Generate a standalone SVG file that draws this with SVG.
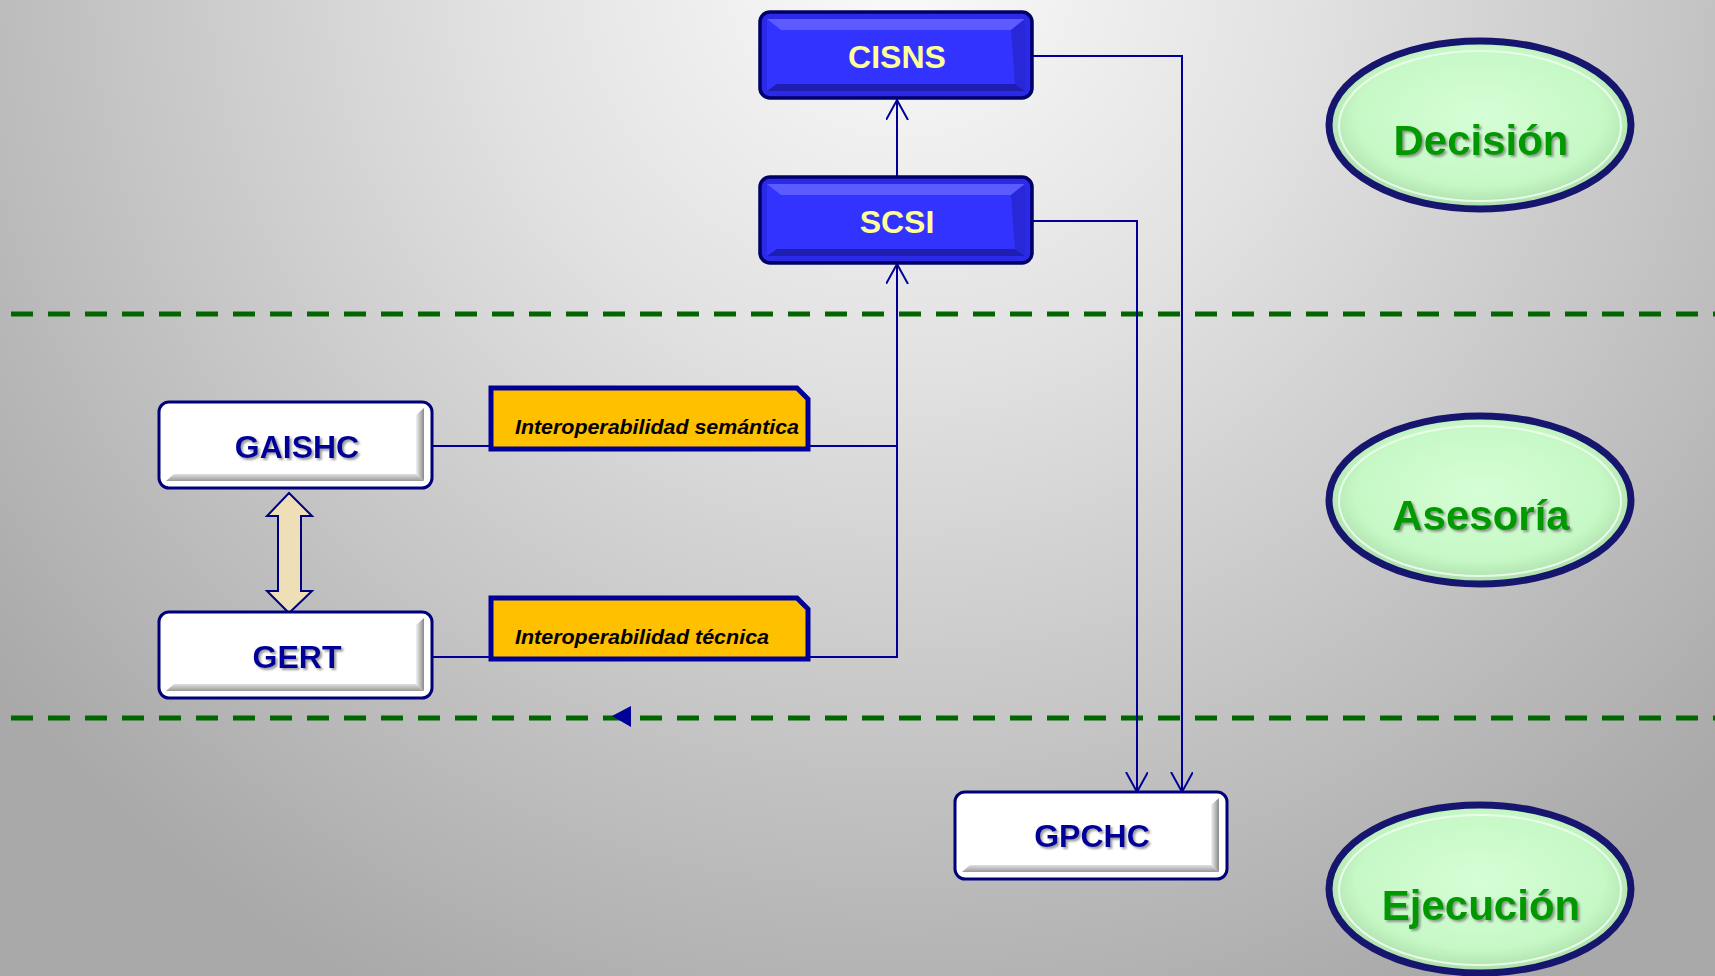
<svg xmlns="http://www.w3.org/2000/svg" width="1715" height="976" viewBox="0 0 1715 976">
<defs>
<radialGradient id="bg" gradientUnits="userSpaceOnUse" cx="900" cy="-40" r="1150" fx="900" fy="-40">
<stop offset="0" stop-color="#fbfbfb"/>
<stop offset="0.35" stop-color="#e2e2e2"/>
<stop offset="1" stop-color="#a9a9a9"/>
</radialGradient>
<radialGradient id="ell" cx="0.5" cy="0.45" r="0.55">
<stop offset="0" stop-color="#d6fed6"/>
<stop offset="0.75" stop-color="#c6f8c6"/>
<stop offset="1" stop-color="#a9dca9"/>
</radialGradient>
<linearGradient id="grayR" x1="0" y1="0" x2="1" y2="0">
<stop offset="0" stop-color="#f2f2f2"/>
<stop offset="1" stop-color="#8a8a8a"/>
</linearGradient>
<linearGradient id="grayB" x1="0" y1="0" x2="0" y2="1">
<stop offset="0" stop-color="#e0e0e0"/>
<stop offset="1" stop-color="#9a9a9a"/>
</linearGradient>
<filter id="sh" x="-10%" y="-20%" width="130%" height="150%">
<feDropShadow dx="2" dy="2" stdDeviation="0.8" flood-color="#707070" flood-opacity="0.7"/>
</filter>
<marker id="arr" markerWidth="24" markerHeight="24" refX="20" refY="11" orient="auto" markerUnits="userSpaceOnUse">
<path d="M0,0 L20,11 L0,22" fill="none" stroke="#000099" stroke-width="2"/>
</marker>
<style>
.conn{fill:none;stroke:#000099;stroke-width:2}
.dash{stroke:#006600;stroke-width:5;stroke-dasharray:22 15}
.wout{fill:#ffffff;stroke:#00007a;stroke-width:3}
.bout{fill:#2a2ae8;stroke:#000066;stroke-width:3.5}
.bface{fill:#3333ff}
.btop{fill:#5b5bff}
.bbot{fill:#1e1eb0}
.bside{fill:#2828d8}
.wt{font-family:"Liberation Sans",Arial,sans-serif;font-weight:bold;font-size:32px;fill:#000099;text-anchor:middle}
.bt{font-family:"Liberation Sans",Arial,sans-serif;font-weight:bold;font-size:32px;fill:#ffff99;text-anchor:middle}
.yt{font-family:"Liberation Sans",Arial,sans-serif;font-weight:bold;font-style:italic;font-size:20px;fill:#000000}
.yb{fill:#ffc000;stroke:#000099;stroke-width:5}
.eo{fill:url(#ell);stroke:#16166e;stroke-width:7}
.ei{fill:none;stroke:#eefcee;stroke-width:2;opacity:0.9}
.et{font-family:"Liberation Sans",Arial,sans-serif;font-weight:bold;font-size:42px;fill:#009900;text-anchor:middle}
</style>
</defs>
<rect x="0" y="0" width="1715" height="976" fill="url(#bg)"/>
<line class="dash" x1="11" y1="314" x2="1715" y2="314"/>
<line class="dash" x1="11" y1="718" x2="1715" y2="718"/>
<polygon points="612,716 631,706 631,727" fill="#000099"/>

<g id="connectors">
<path class="conn" d="M897,176 L897,100" marker-end="url(#arr)"/>
<path class="conn" d="M433,446 L897,446"/>
<path class="conn" d="M433,657 L897,657 L897,264" marker-end="url(#arr)"/>
<path class="conn" d="M1033,56 L1182,56 L1182,792" marker-end="url(#arr)"/>
<path class="conn" d="M1033,221 L1137,221 L1137,792" marker-end="url(#arr)"/>
<polygon points="289,493 312,516 301,516 301,591 312,591 289,613 267,591 278,591 278,516 267,516" fill="#efdfb7" stroke="#000080" stroke-width="2"/>
</g>

<g id="node-cisns">
<rect class="bout" x="760" y="12" width="272" height="86" rx="10"/>
<rect class="bface" x="767" y="19" width="258" height="72"/>
<polygon class="btop" points="767,19 1025,19 1011,30 781,30"/>
<polygon class="bbot" points="767,91 1025,91 1015,84 777,84"/>
<polygon class="bside" points="1025,19 1025,91 1015,84 1011,30"/>
<text class="bt" x="897" y="68">CISNS</text>
</g>

<g id="node-scsi">
<rect class="bout" x="760" y="177" width="272" height="86" rx="10"/>
<rect class="bface" x="767" y="184" width="258" height="72"/>
<polygon class="btop" points="767,184 1025,184 1011,195 781,195"/>
<polygon class="bbot" points="767,256 1025,256 1015,249 777,249"/>
<polygon class="bside" points="1025,184 1025,256 1015,249 1011,195"/>
<text class="bt" x="897" y="233">SCSI</text>
</g>

<g id="node-gaishc">
<rect class="wout" x="159" y="402" width="273" height="86" rx="10"/>
<polygon fill="url(#grayR)" points="424,408 424,481 416,474 416,415"/>
<polygon fill="url(#grayB)" points="166,481 424,481 416,474 174,474"/>
<text class="wt" x="297" y="458" filter="url(#sh)">GAISHC</text>
</g>

<g id="node-gert">
<rect class="wout" x="159" y="612" width="273" height="86" rx="10"/>
<polygon fill="url(#grayR)" points="424,618 424,691 416,684 416,625"/>
<polygon fill="url(#grayB)" points="166,691 424,691 416,684 174,684"/>
<text class="wt" x="297" y="668" filter="url(#sh)">GERT</text>
</g>

<g id="node-gpchc">
<rect class="wout" x="955" y="792" width="272" height="87" rx="10"/>
<polygon fill="url(#grayR)" points="1219,798 1219,872 1211,865 1211,805"/>
<polygon fill="url(#grayB)" points="962,872 1219,872 1211,865 970,865"/>
<text class="wt" x="1092" y="847" filter="url(#sh)">GPCHC</text>
</g>

<g id="label-semantica">
<path class="yb" d="M491,388 L797,388 L808,399 L808,449 L491,449 Z"/>
<text class="yt" x="515" y="434" textLength="284" lengthAdjust="spacingAndGlyphs">Interoperabilidad semántica</text>
</g>

<g id="label-tecnica">
<path class="yb" d="M491,598 L797,598 L808,609 L808,659 L491,659 Z"/>
<text class="yt" x="515" y="644" textLength="254" lengthAdjust="spacingAndGlyphs">Interoperabilidad técnica</text>
</g>

<g id="level-decision">
<ellipse class="eo" cx="1480" cy="125" rx="151" ry="84"/>
<ellipse class="ei" cx="1480" cy="126" rx="141" ry="75"/>
<text class="et" x="1481" y="155" filter="url(#sh)">Decisión</text>
</g>

<g id="level-asesoria">
<ellipse class="eo" cx="1480" cy="500" rx="151" ry="84"/>
<ellipse class="ei" cx="1480" cy="501" rx="141" ry="75"/>
<text class="et" x="1481" y="530" filter="url(#sh)">Asesoría</text>
</g>

<g id="level-ejecucion">
<ellipse class="eo" cx="1480" cy="889" rx="151" ry="84"/>
<ellipse class="ei" cx="1480" cy="890" rx="141" ry="75"/>
<text class="et" x="1481" y="920" filter="url(#sh)">Ejecución</text>
</g>
</svg>
